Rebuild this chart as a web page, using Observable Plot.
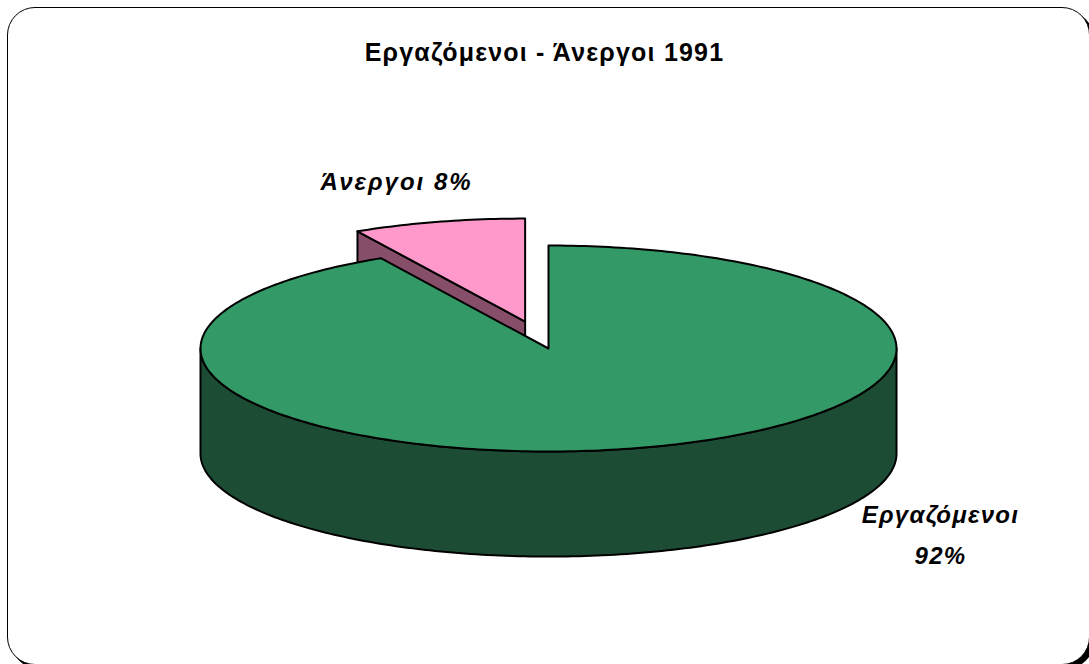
<!DOCTYPE html>
<html><head><meta charset="utf-8">
<script src="https://cdn.jsdelivr.net/npm/d3@7"></script>
<script src="https://cdn.jsdelivr.net/npm/@observablehq/plot@0.6"></script>
<style>
html,body{margin:0;padding:0;background:#fff;overflow:hidden;width:1089px;height:664px;}
#frame{position:absolute;left:7px;top:7px;width:1081px;height:656px;border:1.6px solid #000;border-radius:28px;box-shadow:4px 4px 0 #000;background:#fff;}
#chart{position:absolute;left:0;top:0;}
#title{position:absolute;left:0;width:1089px;top:38px;text-align:center;font:bold 25px "Liberation Sans",Arial,sans-serif;letter-spacing:1.2px;color:#000;}
#chart text.lab-u{letter-spacing:2px;}
#chart text.lab-g{letter-spacing:1.3px;}
</style></head><body>
<div id="frame"></div>
<div id="chart"></div>
<div id="title">Εργαζόμενοι - Άνεργοι 1991</div>
<script>
// ---- data ----
const categories = ["Εργαζόμενοι", "Άνεργοι"];
const values = [92, 8];
const labelTexts = ["Εργαζόμενοι\n92%", "Άνεργοι 8%"];
const topColors = ["#339966", "#ff99cc"];
const sideColors = ["#1d4c34", "#864e68"];
const explode = [0, 0.27];

// ---- geometry (unit ellipse, y up) ----
const depth = 1.02;
const TAU = Math.PI * 2;
const total = d3.sum(values);
let acc = 0;
const slices = categories.map((c, i) => {
  const a = acc / total * TAU; acc += values[i];
  const b = acc / total * TAU;
  const mid = (a + b) / 2;
  const off = {x: explode[i] * Math.sin(mid), y: explode[i] * Math.cos(mid)};
  return {i, c, a, b, mid, off};
});
const P = (s, t, dz = 0) => ({x: s.off.x + Math.sin(t), y: s.off.y + Math.cos(t) - dz});
const C = (s, dz = 0) => ({x: s.off.x, y: s.off.y - dz});
function arc(s, t0, t1, dz = 0) {
  const n = Math.max(2, Math.ceil(Math.abs(t1 - t0) / TAU * 360));
  return d3.range(n + 1).map(k => P(s, t0 + (t1 - t0) * k / n, dz));
}
const polys = [];
const order = slices.slice().sort((p, q) => Math.cos(q.mid) - Math.cos(p.mid));
for (const s of order) {
  for (const [t, n] of [[s.a, s.a - Math.PI / 2], [s.b, s.b + Math.PI / 2]]) {
    if (Math.cos(n) < -1e-6) {
      polys.push({fill: sideColors[s.i], pts: [C(s), P(s, t), P(s, t, depth), C(s, depth)]});
    }
  }
  const w0 = Math.max(s.a, Math.PI / 2), w1 = Math.min(s.b, 1.5 * Math.PI);
  if (w1 > w0) {
    polys.push({fill: sideColors[s.i], pts: [...arc(s, w0, w1), ...arc(s, w1, w0, depth)]});
  }
  polys.push({fill: topColors[s.i], pts: [C(s), ...arc(s, s.a, s.b)]});
}

const marks = polys.map(p => Plot.line(p.pts, {
  x: "x", y: "y", fill: p.fill, stroke: "#000", strokeWidth: 2,
  curve: "linear-closed", strokeLinejoin: "round"
}));

const g = slices[0], u = slices[1];
const labelData = [
  {t: labelTexts[1], x: P(u, u.mid).x, y: P(u, u.mid).y, dx: -42, dy: -45, cls: "lab-u"},
  {t: labelTexts[0], x: g.off.x + 1, y: g.off.y - depth, dx: 44, dy: 77, cls: "lab-g"}
];
for (const d of labelData) {
  marks.push(Plot.text([d], {
    x: "x", y: "y", text: "t", dx: d.dx, dy: d.dy,
    fontSize: 24, fontWeight: "bold", fontStyle: "italic", lineHeight: 1.68,
    fontFamily: "Liberation Sans, Arial, sans-serif", fill: "#000", className: d.cls
  }));
}

const chart = Plot.plot({
  width: 1089, height: 664,
  margin: 0,
  x: {domain: [-1, 1], range: [200, 896], axis: null},
  y: {domain: [-1, 1], range: [451, 245], axis: null},
  style: {background: "transparent", overflow: "visible"},
  marks
});
chart.querySelectorAll("g[aria-label='text']").forEach((el, k) => {
  el.querySelectorAll("text").forEach(t => t.classList.add(labelData[k].cls));
});
document.getElementById("chart").appendChild(chart);
</script>
</body></html>
